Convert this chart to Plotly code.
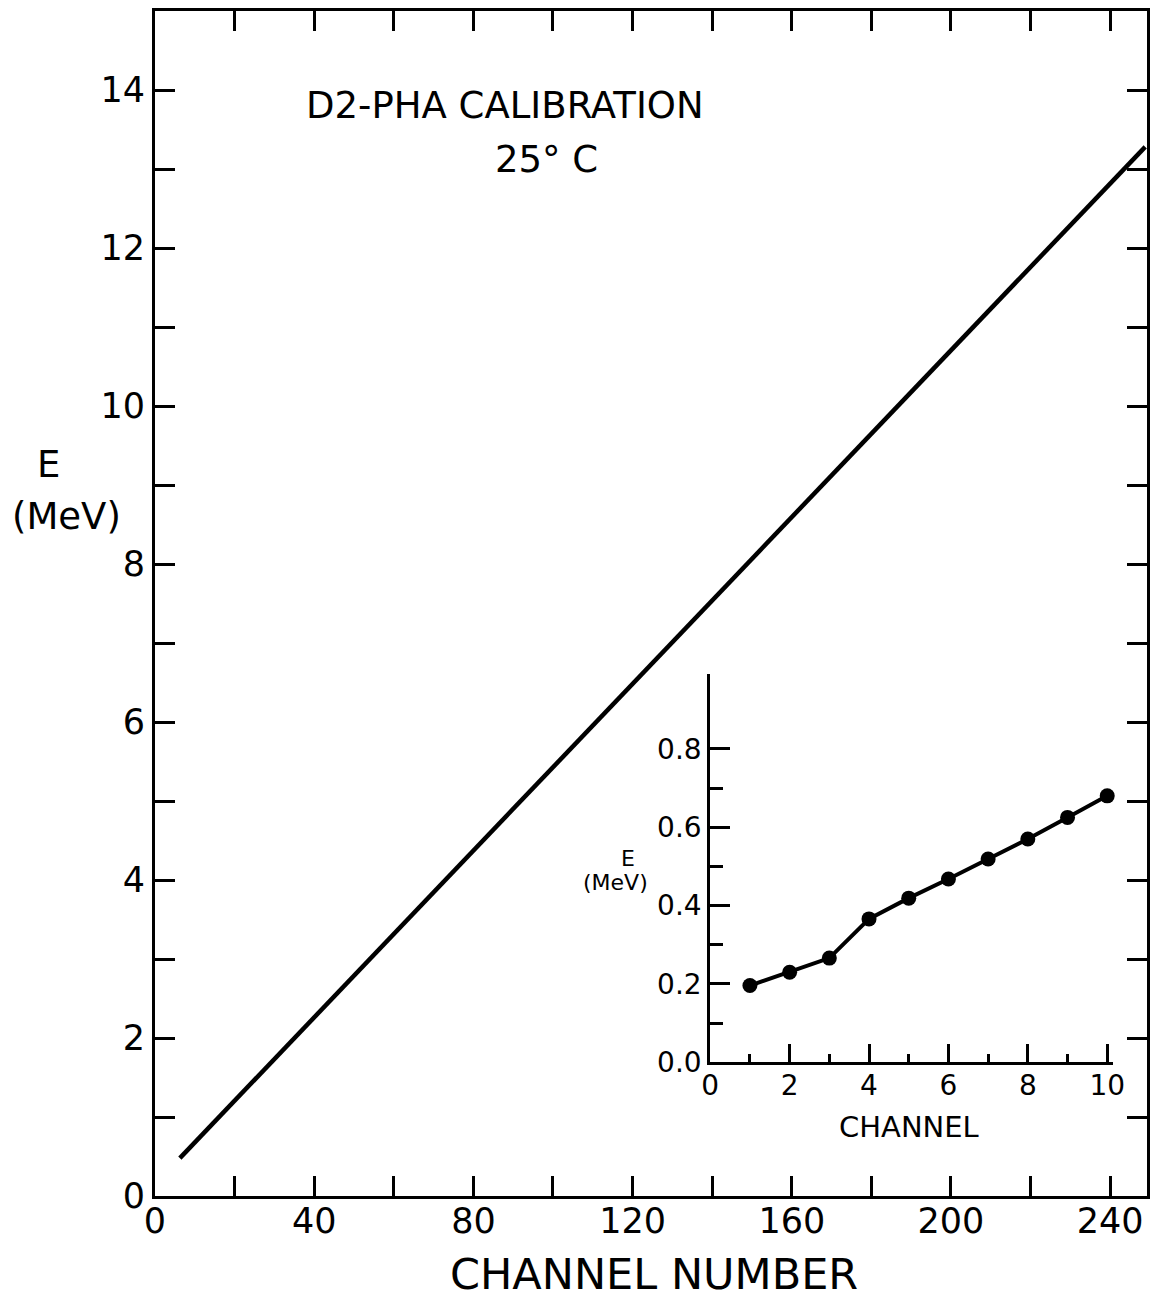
import plotly.graph_objects as go

# Main calibration line
main_channel = [6.25, 248.8]
main_energy = [0.48, 13.28]

# Inset: low channels
inset_channel = [1, 2, 3, 4, 5, 6, 7, 8, 9, 10]
inset_energy = [0.196, 0.230, 0.266, 0.366, 0.419, 0.468, 0.519, 0.570, 0.625, 0.680]

main_xticks = list(range(0, 241, 20))
main_xtext = [str(v) if v % 40 == 0 else "" for v in main_xticks]
main_yticks = list(range(0, 16))
main_ytext = [str(v) if v % 2 == 0 and v <= 14 else "" for v in main_yticks]

inset_xticks = [0, 2, 4, 6, 8, 10]
inset_yticks = [0.0, 0.2, 0.4, 0.6, 0.8]

FONT = "DejaVu Sans"

fig = go.Figure()
fig.add_trace(go.Scatter(x=main_channel, y=main_energy, mode="lines",
                         line=dict(color="black", width=4.5),
                         xaxis="x", yaxis="y", showlegend=False))
fig.add_trace(go.Scatter(x=inset_channel, y=inset_energy, mode="lines+markers",
                         line=dict(color="black", width=4),
                         marker=dict(color="black", size=15),
                         cliponaxis=False,
                         xaxis="x2", yaxis="y2", showlegend=False))

axis_common = dict(showline=True, linecolor="black", linewidth=3,
                   ticks="inside", tickcolor="black", tickwidth=3,
                   showgrid=False, zeroline=False)

fig.update_layout(
    width=1167, height=1304,
    margin=dict(l=155, r=15, t=8, b=108),
    paper_bgcolor="white", plot_bgcolor="white",
    font=dict(family=FONT, color="black"),
    xaxis=dict(domain=[0, 1], range=[0, 249.25], tickmode="array",
               tickvals=main_xticks, ticktext=main_xtext, ticklen=20,
               mirror="ticks", tickfont=dict(size=35), anchor="y",
               ticklabelstandoff=-8,
               **axis_common),
    yaxis=dict(domain=[0, 1], range=[0, 15], tickmode="array",
               tickvals=main_yticks, ticktext=main_ytext, ticklen=20,
               mirror="ticks", tickfont=dict(size=35), anchor="x",
               **axis_common),
    xaxis2=dict(domain=[0.5597, 0.9659], range=[0, 10.15], tickmode="array",
                tickvals=inset_xticks, ticklen=18, anchor="y2",
                tickfont=dict(size=28), ticklabelstandoff=-4,
                minor=dict(tickvals=[1, 3, 5, 7, 9], ticklen=8, ticks="inside",
                           tickcolor="black", tickwidth=3),
                **axis_common),
    yaxis2=dict(domain=[0.1128, 0.4402], range=[0, 0.99], tickmode="array",
                tickvals=inset_yticks, tickformat=".1f", ticklen=20, anchor="x2",
                tickfont=dict(size=28),
                minor=dict(tickvals=[0.1, 0.3, 0.5, 0.7], ticklen=13, ticks="inside",
                           tickcolor="black", tickwidth=3),
                **axis_common),
)

annotations = [
    dict(text="D2-PHA CALIBRATION", x=507, y=103, size=37),
    dict(text="25° C", x=548, y=157, size=37),
    dict(text="E", x=48, y=463, size=37),
    dict(text="(MeV)", x=66, y=515, size=37),
    dict(text="CHANNEL NUMBER", x=657, y=1274, size=43),
    dict(text="E", x=630, y=858, size=22),
    dict(text="(MeV)", x=618, y=882, size=22),
    dict(text="CHANNEL", x=913, y=1127, size=29),
]
for a in annotations:
    fig.add_annotation(text=a["text"],
                       x=(a["x"] - 155) / (1167 - 155 - 15),
                       y=(1304 - 108 - a["y"]) / (1304 - 8 - 108),
                       xref="paper", yref="paper", showarrow=False,
                       xanchor="center", yanchor="middle",
                       font=dict(size=a["size"], family=FONT, color="black"))

fig.write_html("out.html")
